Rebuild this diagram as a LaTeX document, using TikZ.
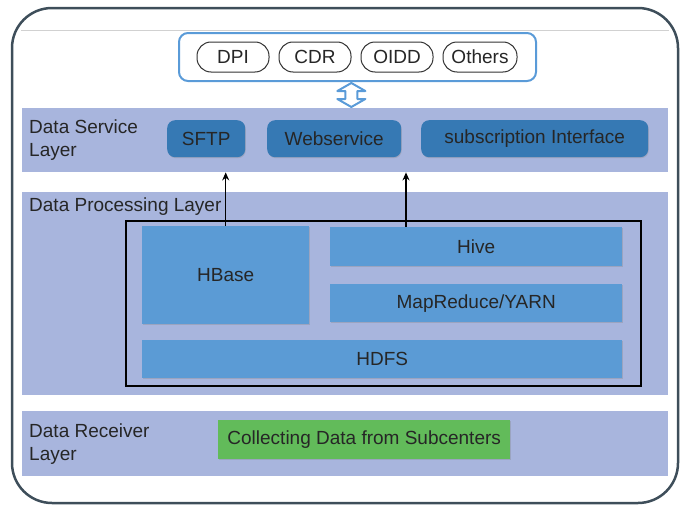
\documentclass[tikz,border=0pt]{standalone}
\usepackage{fontspec}
\setmainfont{Liberation Sans}
\usetikzlibrary{positioning,shadows,calc,arrows.meta}
\definecolor{frameclr}{HTML}{3E4E5A}
\definecolor{srcclr}{HTML}{5A9BD8}
\definecolor{bandclr}{HTML}{A8B5DD}
\definecolor{srvclr}{HTML}{3679B4}
\definecolor{boxclr}{HTML}{5B9BD5}
\definecolor{grnclr}{HTML}{62BB5A}
\definecolor{txtclr}{HTML}{262626}
\begin{document}
\begin{tikzpicture}[x=1pt,y=-1pt,>={Stealth[length=8pt,width=7pt]},font=\fontsize{19}{23}\selectfont,
	layer/.style={fill=bandclr,anchor=north west,inner sep=0pt,minimum width=646pt},
	pill/.style={draw=black!80,line width=1pt,rounded corners=14pt,minimum width=72pt,minimum height=30pt,inner sep=0pt,text=txtclr},
	srvbox/.style={fill=srvclr,rounded corners=8pt,anchor=north west,minimum height=37pt,inner sep=0pt,text=txtclr,
		drop shadow={shadow xshift=0.6pt,shadow yshift=-1pt,opacity=0.3}},
	hbox/.style={fill=boxclr,anchor=north west,inner sep=0pt,text=txtclr,
		drop shadow={shadow xshift=0.6pt,shadow yshift=-1pt,opacity=0.3}},
	lbl/.style={anchor=west,align=left,inner sep=0pt,text=txtclr}]
	\useasboundingbox (0,0) rectangle (681,506);
	\draw[frameclr,line width=2.5pt,rounded corners=40pt] (12,8) rectangle (678,503);
	\draw[black!18,line width=0.8pt] (21,30)--(669,30);
	% sources
	\node[draw=srcclr,fill=white,line width=2pt,rounded corners=9pt,anchor=north west,minimum width=357pt,minimum height=48pt] (src) at (178,32) {};
	\node[pill] (dpi) at (233,57) {DPI};
	\node[pill,right=9pt of dpi] (cdr) {CDR};
	\node[pill,right=9pt of cdr] (oidd) {OIDD};
	\node[pill,right=9pt of oidd,minimum width=74pt] (others) {Others};
	% layers
	\node[layer,minimum height=64pt] (service) at (22,108) {};
	\node[layer,minimum height=203pt] (processing) at (22,192) {};
	\node[layer,minimum height=65pt] (receiver) at (22,411) {};
	\node[lbl] (srvlbl) at (29,140) {Data Service\\Layer};
	\node[lbl] (proclbl) at (29,207) {Data Processing Layer};
	\node[lbl] (rcvlbl) at (29,444) {Data Receiver\\Layer};
	% link
	\coordinate (link) at ($(src.south)!0.5!(service.north)$);
	\draw[srcclr,fill=white,line width=2pt,line join=round] (link) ++(0,-12)--++(14,8)--++(-8,0)--++(0,8)--++(8,0)--++(-14,8)--++(-14,-8)--++(8,0)--++(0,-8)--++(-8,0)--cycle;
	% service
	\node[srvbox,minimum width=78pt] (sftp) at (167,120) {SFTP};
	\node[srvbox,minimum width=134pt] (websrv) at (267,120) {Webservice};
	\node[srvbox,minimum width=227pt] (subif) at (421,120) {subscription Interface};
	% processing
	\node[draw=black,line width=2pt,anchor=north west,minimum width=515pt,minimum height=165pt,inner sep=0pt] (stack) at (125,220) {};
	\node[hbox,minimum width=167pt,minimum height=98pt] (hbase) at (142,226) {HBase};
	\node[hbox,minimum width=292pt,minimum height=39pt] (hive) at (330,227) {Hive};
	\node[hbox,minimum width=292pt,minimum height=38pt] (mapred) at (330,284) {MapReduce/YARN};
	\node[hbox,minimum width=480pt,minimum height=38pt] (hdfs) at (142,340) {HDFS};
	\draw[->,line width=1.2pt] (hbase.north)--(hbase.north |- service.south);
	\coordinate (tap) at ([xshift=76pt]hive.north west);
	\draw[->,line width=1.2pt] (tap)--(tap |- service.south);
	% receiver
	\node[hbox,fill=grnclr,minimum width=292pt,minimum height=39pt] (collect) at (218,420) {Collecting Data from Subcenters};
\end{tikzpicture}
\end{document}
